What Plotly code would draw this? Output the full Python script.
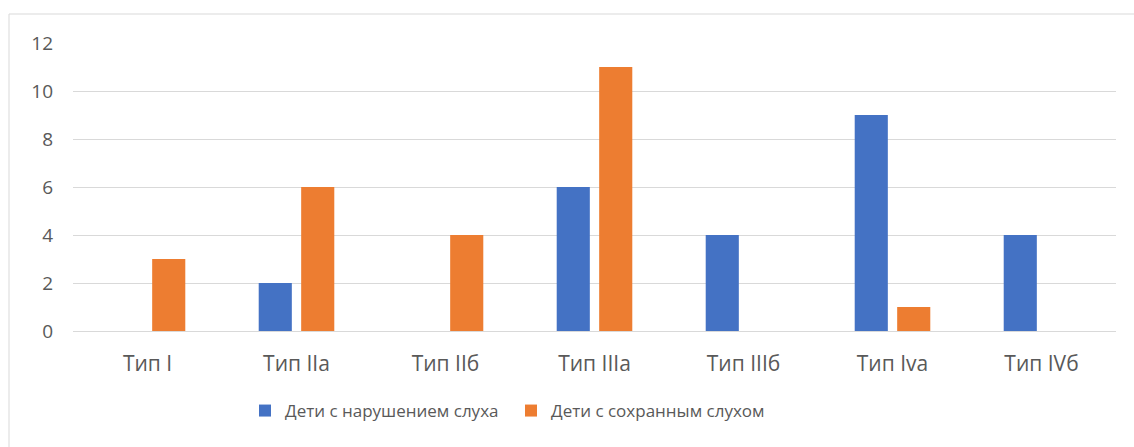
import plotly.graph_objects as go

categories = ["Тип I", "Тип IIa", "Тип IIб", "Тип IIIa", "Тип IIIб", "Тип Iva", "Тип IVб"]
impaired = [0, 2, 0, 6, 4, 9, 4]
preserved = [3, 6, 4, 11, 0, 1, 0]
series_names = ["Дети с нарушением слуха", "Дети с сохранным слухом"]
y_ticks = [0, 2, 4, 6, 8, 10, 12]

W, H = 1134, 447
ml, mr, mt, mb = 73, 18, 43, 116
pw, ph = W - ml - mr, H - mt - mb

fig = go.Figure()
fig.add_trace(go.Bar(x=categories, y=impaired, name=series_names[0],
                     marker=dict(color="#4472C4", line=dict(width=0))))
fig.add_trace(go.Bar(x=categories, y=preserved, name=series_names[1],
                     marker=dict(color="#ED7D31", line=dict(width=0))))

font_color = "#595959"
fam = "Open Sans, Liberation Sans, sans-serif"
fig.update_layout(
    width=W, height=H,
    margin=dict(l=ml, r=mr, t=mt, b=mb, pad=0),
    paper_bgcolor="white", plot_bgcolor="white",
    barmode="group", bargap=0.43, bargroupgap=0.22,
    font=dict(family=fam, size=18, color=font_color),
    showlegend=True,
    legend=dict(orientation="h", x=(245 - ml) / pw, xanchor="left",
                y=(mt + ph - 411) / ph, yanchor="middle",
                font=dict(family=fam, size=17, color=font_color),
                entrywidth=221, itemwidth=30, traceorder="normal"),
    xaxis=dict(showgrid=False, showline=False, zeroline=False, ticks="",
               ticklabelstandoff=18,
               tickfont=dict(family=fam, size=21, color=font_color), fixedrange=True),
    yaxis=dict(range=[0, 12], tickvals=y_ticks, showgrid=True, gridcolor="#D9D9D9",
               gridwidth=1, zeroline=True, zerolinecolor="#D9D9D9", zerolinewidth=1,
               showline=False, ticks="", ticklabelstandoff=19,
               tickfont=dict(family=fam, size=19, color=font_color)),
    shapes=[dict(type="rect", xref="paper", yref="paper",
                 x0=(9 - ml) / pw, x1=(W + 5 - ml) / pw,
                 y0=(mt + ph - (H + 5)) / ph, y1=(mt + ph - 14) / ph,
                 line=dict(color="#D9D9D9", width=1), fillcolor="rgba(0,0,0,0)",
                 layer="below")],
)

fig.write_html("out.html")
